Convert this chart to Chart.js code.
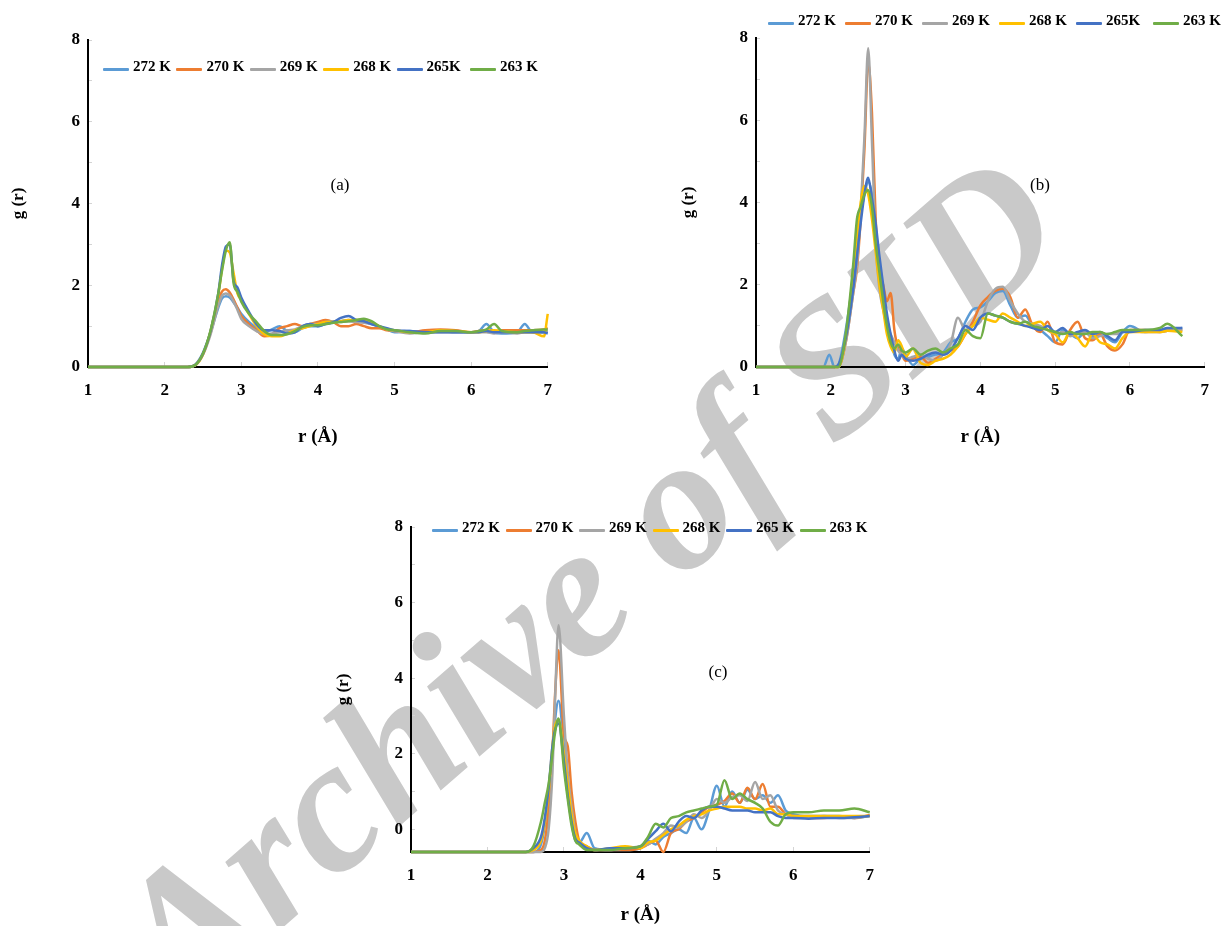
<!DOCTYPE html>
<html>
<head>
<meta charset="utf-8">
<title>g(r)</title>
<script src="https://cdn.jsdelivr.net/npm/chart.js@4.4.1/dist/chart.umd.min.js"></script>
<style>
  html, body { margin: 0; padding: 0; background: #fff; }
  #page {
    position: relative; width: 1227px; height: 926px; overflow: hidden;
    font-family: "Liberation Serif", "Times New Roman", serif; color: #000;
  }
  .watermark {
    position: absolute; left: 585px; top: 580px; z-index: 0;
    transform: translate(-50%, -50%) rotate(-41deg);
    font: italic bold 190px "Liberation Serif", serif;
    color: #c9c9c9; white-space: nowrap; pointer-events: none;
  }
  canvas { position: absolute; z-index: 1; }
  .legend {
    position: absolute; z-index: 2; display: flex; align-items: center;
    font-weight: bold; font-size: 15px; white-space: nowrap;
  }
  .legend .item { display: flex; align-items: center; }
  .legend .swatch { width: 26px; height: 3px; margin: 5px 4px 0 0; border-radius: 1px; }
  .tag { position: absolute; z-index: 2; font-size: 17px; transform: translate(-50%, -50%); }
</style>
</head>
<body>
<div id="page">
  <div class="watermark">Archive of SID</div>

  <canvas id="chartA" width="570" height="460" style="left:0px;top:0px"></canvas>
  <canvas id="chartB" width="557" height="460" style="left:670px;top:0px"></canvas>
  <canvas id="chartC" width="567" height="446" style="left:325px;top:480px"></canvas>

  <div class="legend" id="legendA" style="left:103px;top:58px"></div>
  <div class="legend" id="legendB" style="left:768px;top:12px"></div>
  <div class="legend" id="legendC" style="left:432px;top:519px"></div>

  <div class="tag" style="left:340px;top:185px">(a)</div>
  <div class="tag" style="left:1040px;top:185px">(b)</div>
  <div class="tag" style="left:718px;top:672px">(c)</div>
</div>

<script>
/* ── Series ─────────────────────────────────────────── */
const LABELS_AB = ["272 K", "270 K", "269 K", "268 K", "265K", "263 K"];
const LABELS_C  = ["272 K", "270 K", "269 K", "268 K", "265 K", "263 K"];
const COLORS    = ["#5B9BD5", "#ED7D31", "#A5A5A5", "#FFC000", "#4472C4", "#70AD47"];
const X_TICKS   = [1, 2, 3, 4, 5, 6, 7];
const Y_LABELS  = [0, 2, 4, 6, 8];

/* ── (a) ────────────────────────────────────────────── */
const R_A = [1, 2, 2.3, 2.4, 2.5, 2.6, 2.7, 2.75, 2.8, 2.85, 2.9, 2.95, 3.0, 3.1, 3.2,
  3.3, 3.4, 3.5, 3.6, 3.7, 3.8, 3.9, 4.0, 4.1, 4.2, 4.3, 4.4, 4.5, 4.6, 4.7,
  4.8, 4.9, 5.0, 5.2, 5.4, 5.6, 5.8, 6.0, 6.1, 6.2, 6.3, 6.4, 6.6, 6.7, 6.8, 6.95, 7.0];
const A_272 = [0, 0, 0, 0.06, 0.35, 0.85, 1.45, 1.68, 1.73, 1.7, 1.58, 1.45, 1.3, 1.1, 0.95,
  0.85, 0.92, 1.0, 0.88, 0.85, 0.95, 1.0, 1.0, 1.05, 1.08, 1.12, 1.15, 1.1, 1.1, 1.05,
  0.98, 0.92, 0.85, 0.88, 0.85, 0.88, 0.85, 0.85, 0.88, 1.05, 0.85, 0.82, 0.85, 1.05, 0.85, 0.85, 0.85];
const A_270 = [0, 0, 0, 0.05, 0.32, 0.85, 1.6, 1.85, 1.9, 1.82, 1.65, 1.45, 1.25, 1.05, 0.9,
  0.75, 0.8, 0.95, 1.0, 1.05, 1.0, 1.05, 1.1, 1.15, 1.1, 1.0, 1.0, 1.05, 1.0, 0.95,
  0.95, 0.9, 0.88, 0.85, 0.9, 0.92, 0.9, 0.85, 0.88, 0.9, 0.88, 0.9, 0.9, 0.9, 0.9, 0.92, 0.95];
const A_269 = [0, 0, 0, 0.05, 0.3, 0.8, 1.5, 1.75, 1.8, 1.75, 1.6, 1.4, 1.18, 1.0, 0.88,
  0.8, 0.82, 0.85, 0.9, 0.92, 1.0, 1.05, 1.05, 1.1, 1.12, 1.1, 1.12, 1.1, 1.08, 1.05,
  1.0, 0.92, 0.88, 0.82, 0.85, 0.85, 0.85, 0.85, 0.85, 0.85, 0.82, 0.85, 0.82, 0.85, 0.85, 0.85, 0.88];
const A_268 = [0, 0, 0, 0.04, 0.3, 0.88, 1.75, 2.4, 2.85, 2.8, 2.3, 1.8, 1.65, 1.3, 1.0,
  0.8, 0.75, 0.75, 0.82, 0.9, 0.95, 1.0, 1.05, 1.1, 1.1, 1.12, 1.15, 1.15, 1.15, 1.1,
  1.0, 0.92, 0.9, 0.85, 0.85, 0.9, 0.88, 0.85, 0.85, 0.88, 0.9, 0.88, 0.85, 0.85, 0.85, 0.75, 1.3];
const A_265 = [0, 0, 0, 0.05, 0.32, 0.88, 1.8, 2.5, 2.95, 3.0, 2.1, 1.95, 1.7, 1.35, 1.05,
  0.9, 0.9, 0.88, 0.82, 0.85, 1.0, 1.05, 1.0, 1.05, 1.1, 1.2, 1.25, 1.15, 1.12, 1.05,
  1.0, 0.95, 0.9, 0.88, 0.85, 0.85, 0.85, 0.85, 0.85, 0.88, 0.85, 0.85, 0.85, 0.85, 0.85, 0.85, 0.82];
const A_263 = [0, 0, 0, 0.05, 0.33, 0.9, 1.8, 2.37, 2.85, 3.05, 2.05, 1.84, 1.6, 1.3, 1.1,
  0.88, 0.78, 0.78, 0.8, 0.88, 0.98, 1.02, 1.02, 1.05, 1.08, 1.1, 1.12, 1.15, 1.18, 1.12,
  1.0, 0.92, 0.9, 0.85, 0.82, 0.88, 0.88, 0.85, 0.88, 0.92, 1.05, 0.88, 0.85, 0.88, 0.9, 0.92, 0.92];

/* ── (b) ────────────────────────────────────────────── */
const R_B = [1, 1.9, 1.98, 2.05, 2.1, 2.2, 2.3, 2.35, 2.4, 2.45, 2.5, 2.55, 2.6, 2.65, 2.7,
  2.75, 2.8, 2.85, 2.9, 2.95, 3.0, 3.1, 3.2, 3.3, 3.4, 3.5, 3.6, 3.7, 3.8, 3.9,
  4.0, 4.1, 4.2, 4.3, 4.4, 4.5, 4.6, 4.7, 4.8, 4.9, 5.0, 5.1, 5.2, 5.3, 5.4,
  5.5, 5.6, 5.7, 5.8, 5.9, 6.0, 6.2, 6.4, 6.5, 6.7];
const B_272 = [0, 0, 0.3, 0, 0.05, 0.9, 2.2, 3.0, 3.7, 4.2, 4.5, 4.2, 3.3, 2.4, 1.8,
  1.2, 0.7, 0.3, 0.2, 0.45, 0.3, 0.05, 0.2, 0.25, 0.3, 0.35, 0.6, 0.7, 1.1, 1.4,
  1.45, 1.6, 1.8, 1.85, 1.5, 1.2, 1.25, 1.0, 0.9, 0.75, 0.6, 0.9, 0.8, 0.7, 0.85,
  0.75, 0.8, 0.7, 0.6, 0.85, 1.0, 0.85, 0.9, 0.92, 0.95];
const B_270 = [0, 0, 0, 0, 0, 0.6, 1.8, 2.4, 3.6, 5.3, 7.4, 6.2, 3.6, 2.3, 2.0,
  1.6, 1.8, 0.9, 0.45, 0.3, 0.15, 0.2, 0.25, 0.1, 0.2, 0.3, 0.4, 0.5, 0.8, 1.1,
  1.5, 1.7, 1.85, 1.9, 1.7, 1.2, 1.4, 1.0, 0.85, 1.1, 0.6, 0.55, 0.9, 1.1, 0.7,
  0.65, 0.8, 0.5, 0.4, 0.55, 0.9, 0.9, 0.85, 0.88, 0.9];
const B_269 = [0, 0, 0, 0, 0, 0.6, 1.8, 2.5, 3.8, 5.6, 7.75, 5.5, 3.0, 1.9, 1.4,
  1.0, 0.8, 0.6, 0.4, 0.3, 0.2, 0.25, 0.3, 0.2, 0.15, 0.3, 0.55, 1.2, 0.9, 1.0,
  1.1, 1.6, 1.9, 1.95, 1.6, 1.3, 1.1, 1.05, 1.0, 0.9, 0.8, 0.85, 0.75, 0.8, 0.85,
  0.7, 0.75, 0.8, 0.8, 0.85, 0.88, 0.85, 0.85, 0.88, 0.9];
const B_268 = [0, 0, 0, 0, 0, 0.7, 2.3, 3.2, 4.0, 4.4, 4.2, 3.6, 2.8, 2.0, 1.4,
  0.8, 0.5, 0.35, 0.65, 0.5, 0.25, 0.45, 0.1, 0.05, 0.15, 0.2, 0.3, 0.5, 0.8, 1.0,
  1.2, 1.15, 1.1, 1.3, 1.2, 1.1, 1.0, 1.05, 1.1, 0.9, 0.8, 0.6, 0.85, 0.7, 0.5,
  0.8, 0.6, 0.55, 0.45, 0.7, 0.85, 0.85, 0.85, 0.88, 0.85];
const B_265 = [0, 0, 0, 0, 0.05, 0.7, 1.9, 2.7, 3.5, 4.2, 4.6, 4.1, 3.5, 2.7, 2.0,
  1.3, 0.8, 0.4, 0.15, 0.3, 0.2, 0.15, 0.2, 0.3, 0.35, 0.3, 0.4, 0.7, 1.0, 0.9,
  1.2, 1.3, 1.25, 1.2, 1.1, 1.05, 1.0, 0.95, 0.9, 1.0, 0.85, 0.95, 0.8, 0.85, 0.9,
  0.8, 0.85, 0.75, 0.65, 0.85, 0.85, 0.9, 0.9, 0.95, 0.95];
const B_263 = [0, 0, 0, 0, 0, 0.8, 2.5, 3.6, 3.9, 4.2, 4.3, 3.9, 3.0, 2.3, 1.6,
  1.0, 0.6, 0.45, 0.55, 0.4, 0.35, 0.45, 0.3, 0.4, 0.45, 0.35, 0.45, 0.55, 0.9, 0.75,
  0.7, 1.3, 1.25, 1.2, 1.1, 1.05, 1.1, 1.0, 0.95, 0.9, 0.85, 0.8, 0.85, 0.8, 0.8,
  0.85, 0.85, 0.8, 0.85, 0.9, 0.9, 0.9, 0.95, 1.05, 0.75];

/* ── (c) ────────────────────────────────────────────── */
const R_C = [1, 2.5, 2.6, 2.7, 2.75, 2.8, 2.85, 2.88, 2.93, 3.0, 3.05, 3.1, 3.15, 3.2, 3.3,
  3.4, 3.6, 3.8, 4.0, 4.1, 4.2, 4.3, 4.4, 4.5, 4.6, 4.7, 4.8, 4.9, 5.0, 5.1,
  5.2, 5.3, 5.4, 5.5, 5.6, 5.7, 5.8, 5.9, 6.0, 6.2, 6.4, 6.6, 6.8, 7.0];
const C_272 = [-0.6, -0.6, -0.6, -0.4, 0.1, 0.9, 2.0, 2.8, 3.4, 2.2, 1.0, 0.2, -0.3, -0.35, -0.1,
  -0.5, -0.55, -0.55, -0.5, -0.3, -0.4, -0.2, -0.1, 0.0, -0.1, 0.3, 0.0, 0.5, 1.15, 0.6,
  1.0, 0.7, 1.05, 0.8, 0.9, 0.7, 0.9, 0.5, 0.4, 0.35, 0.35, 0.35, 0.3, 0.35];
const C_270 = [-0.6, -0.6, -0.6, -0.55, -0.3, 0.5, 2.0, 3.4, 4.74, 2.5, 2.2, 1.0, 0.2, -0.3, -0.45,
  -0.55, -0.55, -0.55, -0.5, -0.4, -0.3, -0.6, -0.1, 0.0, 0.2, 0.3, 0.45, 0.6, 0.65, 0.75,
  0.95, 0.7, 1.1, 0.8, 1.2, 0.6, 0.6, 0.4, 0.35, 0.3, 0.3, 0.32, 0.3, 0.38];
const C_269 = [-0.6, -0.6, -0.6, -0.6, -0.5, 0.0, 1.5, 3.2, 5.4, 3.0, 1.5, 0.6, -0.1, -0.35, -0.5,
  -0.55, -0.55, -0.5, -0.45, -0.4, -0.25, -0.1, 0.1, 0.05, 0.2, 0.4, 0.3, 0.5, 0.8, 0.7,
  0.85, 0.9, 0.75, 1.25, 0.8, 0.9, 0.5, 0.4, 0.3, 0.3, 0.35, 0.3, 0.3, 0.35];
const C_268 = [-0.6, -0.6, -0.55, -0.3, 0.2, 1.0, 2.2, 2.7, 2.9, 2.0, 1.2, 0.4, -0.1, -0.3, -0.45,
  -0.55, -0.5, -0.45, -0.5, -0.35, -0.3, -0.15, 0.0, 0.1, 0.25, 0.35, 0.4, 0.5, 0.55, 0.6,
  0.6, 0.6, 0.55, 0.55, 0.5, 0.55, 0.4, 0.4, 0.35, 0.35, 0.35, 0.35, 0.35, 0.35];
const C_265 = [-0.6, -0.6, -0.5, -0.2, 0.3, 1.1, 2.2, 2.6, 2.8, 1.8, 0.9, 0.2, -0.25, -0.35, -0.5,
  -0.55, -0.5, -0.5, -0.45, -0.25, -0.05, 0.15, -0.05, 0.2, 0.35, 0.3, 0.5, 0.6, 0.6, 0.55,
  0.5, 0.5, 0.5, 0.45, 0.45, 0.45, 0.35, 0.3, 0.3, 0.28, 0.3, 0.3, 0.32, 0.35];
const C_263 = [-0.6, -0.6, -0.45, 0.2, 0.7, 1.2, 2.0, 2.5, 2.93, 1.6, 0.8, 0.1, -0.3, -0.4, -0.55,
  -0.55, -0.55, -0.5, -0.45, -0.2, 0.15, 0.05, 0.3, 0.35, 0.45, 0.5, 0.55, 0.6, 0.65, 1.3,
  0.8, 0.95, 0.8, 0.7, 0.55, 0.2, 0.1, 0.4, 0.45, 0.45, 0.5, 0.5, 0.55, 0.45];

/* ── Build ──────────────────────────────────────────── */
Chart.defaults.font.family = "'Liberation Serif', 'Times New Roman', serif";
Chart.defaults.color = "#000";

function buildLegend(id, labels, pitch) {
  const box = document.getElementById(id);
  labels.forEach((lab, i) => {
    const item = document.createElement("div");
    item.className = "item";
    item.style.width = pitch + "px";
    item.innerHTML = `<span class="swatch" style="background:${COLORS[i]}"></span><span>${lab}</span>`;
    box.appendChild(item);
  });
}

function buildPanel(canvasId, r, series, labels, p) {
  const datasets = series.map((vals, i) => ({
    label: labels[i],
    data: r.map((x, k) => ({ x, y: vals[k] })),
    borderColor: COLORS[i],
    backgroundColor: COLORS[i],
    borderWidth: 2.5,
    pointRadius: 0,
    cubicInterpolationMode: "monotone",
    clip: 4,
    order: series.length - i,
  }));

  new Chart(document.getElementById(canvasId), {
    type: "line",
    data: { datasets },
    options: {
      responsive: false,
      animation: false,
      layout: { padding: { left: 0, top: p.top, right: p.right, bottom: 0 } },
      plugins: { legend: { display: false }, tooltip: { enabled: false } },
      scales: {
        x: {
          type: "linear", min: X_TICKS[0], max: X_TICKS[X_TICKS.length - 1],
          afterBuildTicks: s => { s.ticks = X_TICKS.map(v => ({ value: v })); },
          ticks: { color: "#000", font: { size: 17, weight: "bold" }, padding: 18 },
          grid: { drawOnChartArea: false, tickLength: -5, color: "#d4d4d4" },
          border: { color: "#000", width: 2 },
          title: {
            display: true, text: "r (Å)", color: "#000",
            font: { size: 19, weight: "bold" }, padding: { top: 0, bottom: p.titlePad },
          },
          afterFit: s => { s.height = p.xh; },
        },
        y: {
          type: "linear", min: p.ymin, max: 8,
          ticks: {
            stepSize: 1, color: "#000", font: { size: 17, weight: "bold" }, padding: 12,
            callback: v => (Y_LABELS.includes(v) ? v : ""),
          },
          grid: { drawOnChartArea: false, tickLength: -4, color: "#d4d4d4" },
          border: { color: "#000", width: 2 },
          title: {
            display: true, text: "g (r)", color: "#000",
            font: { size: 17, weight: "bold" }, padding: { top: 8, bottom: 0 },
          },
          afterFit: s => { s.width = p.yw; },
        },
      },
    },
  });
}

buildLegend("legendA", LABELS_AB, 73.4);
buildLegend("legendB", LABELS_AB, 77);
buildLegend("legendC", LABELS_C, 73.5);

buildPanel("chartA", R_A, [A_272, A_270, A_269, A_268, A_265, A_263], LABELS_AB,
  { top: 40, right: 15, xh: 93, yw: 88, ymin: 0, titlePad: 12 });
buildPanel("chartB", R_B, [B_272, B_270, B_269, B_268, B_265, B_263], LABELS_AB,
  { top: 38, right: 5, xh: 93, yw: 86, ymin: 0, titlePad: 12 });
buildPanel("chartC", R_C, [C_272, C_270, C_269, C_268, C_265, C_263], LABELS_C,
  { top: 47, right: 15, xh: 74, yw: 86, ymin: -0.6, titlePad: 0 });
</script>
</body>
</html>
